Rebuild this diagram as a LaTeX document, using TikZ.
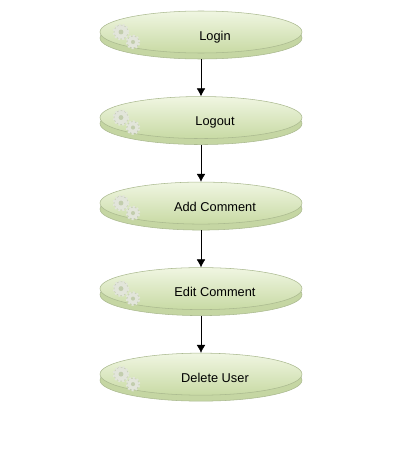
\documentclass[tikz,border=0pt]{standalone}
\usepackage{fontspec}
\setmainfont{Liberation Sans}
\usetikzlibrary{positioning}
\usetikzlibrary{calc}
\usetikzlibrary{shapes}
\usetikzlibrary{shadows}
\usetikzlibrary{arrows.meta}

\definecolor{discTop}{HTML}{F0F6E2}
\definecolor{discBot}{HTML}{C8DAA4}
\definecolor{discEdge}{HTML}{AAB98F}
\definecolor{bandCol}{HTML}{C5D6A3}
\definecolor{gearCol}{HTML}{E2E5DA}
\definecolor{gearEdge}{HTML}{BEC4B3}

% a small cog: centre, radius
\newcommand{\cog}[2]{
    \draw[gearEdge, fill=gearCol, line width=0.3pt] #1 circle (#2);
    \draw[gearCol, line width=2pt, dash pattern=on 1.4pt off 1.4pt] #1 circle (#2);
    \fill[gearEdge!60!discBot] #1 circle (0.35*#2);
}

\tikzset{
    usecase/.style={draw=discEdge, ellipse, minimum width=151.5pt, minimum height=31.5pt,
        inner sep=0pt, top color=discTop, bottom color=discBot,
        copy shadow={shadow xshift=0pt, shadow yshift=-4.5pt, fill=bandCol, draw=discEdge},
        text height=12pt, text depth=0pt,
        font=\fontsize{9.6}{11}\selectfont, execute at begin node={\hspace*{21pt}}},
}

\begin{document}
\begin{tikzpicture}[>={Latex[length=6pt,width=6.5pt]}, node distance=32.25pt]
    \useasboundingbox (-150.75pt,24pt) rectangle (149.25pt,-313.5pt);

    % the use case discs
    \node[usecase] (login) at (0,0) {Login};
    \node[usecase, below=of login] (logout) {Logout};
    \node[usecase, below=of logout] (addComment) {Add Comment};
    \node[usecase, below=of addComment] (editComment) {Edit Comment};
    \node[usecase, below=of editComment] (deleteUser) {Delete User};

    % the cogs on the left of each disc
    \foreach \n in {login, logout, addComment, editComment, deleteUser} {
        \cog{($(\n.center)+(-60pt,0pt)$)}{5.2pt}
        \cog{($(\n.center)+(-51pt,-7.5pt)$)}{4.4pt}
    }

    % the arrows
    \draw[->] ([yshift=-4.5pt]login.south) -- (logout);
    \draw[->] ([yshift=-4.5pt]logout.south) -- (addComment);
    \draw[->] ([yshift=-4.5pt]addComment.south) -- (editComment);
    \draw[->] ([yshift=-4.5pt]editComment.south) -- (deleteUser);
\end{tikzpicture}
\end{document}
